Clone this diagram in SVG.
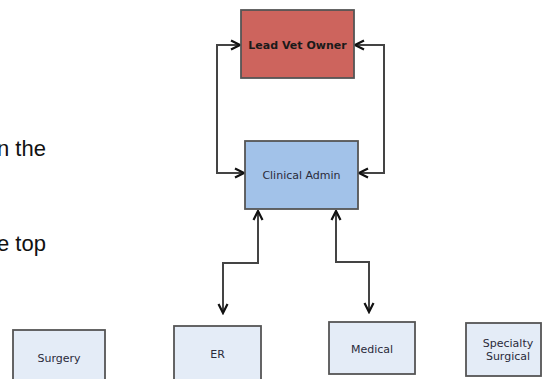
<svg xmlns="http://www.w3.org/2000/svg" width="542" height="379" viewBox="0 0 542 379">
  <style>
    .box { stroke: #555; stroke-width: 1.8; }
    .lbl { font-family: "DejaVu Sans", Verdana, sans-serif; font-size: 11px; fill: #2a2a3a; text-anchor: middle; }
    .bold { font-weight: bold; fill: #1a1a1a; }
    .side { font-family: "Liberation Sans", Arial, sans-serif; font-size: 22px; fill: #111; }
    .conn { fill: none; stroke: #444; stroke-width: 2; }
  </style>
  <defs>
    <marker id="arr" viewBox="0 0 12 12" refX="10.5" refY="6" markerWidth="12" markerHeight="12" markerUnits="userSpaceOnUse" orient="auto-start-reverse">
      <path d="M1.5,1.5 L10.5,6 L1.5,10.5" fill="none" stroke="#111" stroke-width="2.2"/>
    </marker>
  </defs>
  <rect width="542" height="379" fill="#ffffff"/>

  <text class="side" x="-3" y="156">n the</text>
  <text class="side" x="-3" y="251">e top</text>

  <g id="connectors">
    <path class="conn" d="M240,45 H217 V173 H244" marker-start="url(#arr)" marker-end="url(#arr)"/>
    <path class="conn" d="M355,45 H384 V173 H359" marker-start="url(#arr)" marker-end="url(#arr)"/>
    <path class="conn" d="M258,211 V263 H223 V313" marker-start="url(#arr)" marker-end="url(#arr)"/>
    <path class="conn" d="M336,211 V262 H369 V312" marker-start="url(#arr)" marker-end="url(#arr)"/>
  </g>

  <g id="lead-vet-owner">
    <rect class="box" x="241" y="10" width="113" height="68" fill="#cd645d"/>
    <text class="lbl bold" x="297.5" y="49">Lead Vet Owner</text>
  </g>
  <g id="clinical-admin">
    <rect class="box" x="245" y="141" width="113" height="68" fill="#a2c2e9"/>
    <text class="lbl" x="301.5" y="179">Clinical Admin</text>
  </g>
  <g id="surgery">
    <rect class="box" x="13" y="330" width="92" height="60" fill="#e4ecf7"/>
    <text class="lbl" x="59" y="362">Surgery</text>
  </g>
  <g id="er">
    <rect class="box" x="174" y="326" width="87" height="60" fill="#e4ecf7"/>
    <text class="lbl" x="217.5" y="358">ER</text>
  </g>
  <g id="medical">
    <rect class="box" x="329" y="322" width="86" height="52" fill="#e4ecf7"/>
    <text class="lbl" x="372" y="353">Medical</text>
  </g>
  <g id="specialty-surgical">
    <rect class="box" x="466" y="323" width="75" height="53" fill="#e4ecf7"/>
    <text class="lbl" x="508" y="347">Specialty</text>
    <text class="lbl" x="508" y="360">Surgical</text>
  </g>
</svg>
